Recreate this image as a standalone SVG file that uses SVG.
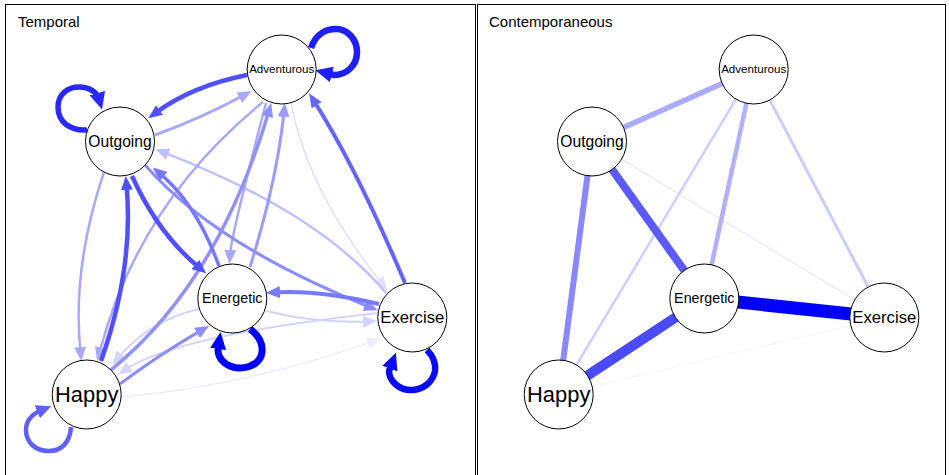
<svg xmlns="http://www.w3.org/2000/svg" width="949" height="475" viewBox="0 0 949 475">
<style>
.frame{fill:none;stroke:#000;stroke-width:1}
.node circle{fill:#fff;stroke:#000;stroke-width:1}
.node text{font-family:"Liberation Sans",Arial,sans-serif;text-anchor:middle;fill:#000}
.title{font-family:"Liberation Sans",Arial,sans-serif;font-size:15px;fill:#000}
.e{fill:none;stroke-linecap:butt}
.u{fill:none;stroke-linecap:butt}
</style>
<defs>
<marker id="m1" viewBox="0 0 14 12" refX="5" refY="6" markerWidth="14" markerHeight="12" orient="auto" markerUnits="userSpaceOnUse"><path d="M0,0L14,6L0,12z" fill="#5050ff"/></marker>
<marker id="m2" viewBox="0 0 14 12" refX="5" refY="6" markerWidth="14" markerHeight="12" orient="auto" markerUnits="userSpaceOnUse"><path d="M0,0L14,6L0,12z" fill="#a8a8ff"/></marker>
<marker id="m3" viewBox="0 0 14 12" refX="5" refY="6" markerWidth="14" markerHeight="12" orient="auto" markerUnits="userSpaceOnUse"><path d="M0,0L14,6L0,12z" fill="#6464ff"/></marker>
<marker id="m4" viewBox="0 0 14 12" refX="5" refY="6" markerWidth="14" markerHeight="12" orient="auto" markerUnits="userSpaceOnUse"><path d="M0,0L14,6L0,12z" fill="#e0e0ff"/></marker>
<marker id="m5" viewBox="0 0 14 12" refX="5" refY="6" markerWidth="14" markerHeight="12" orient="auto" markerUnits="userSpaceOnUse"><path d="M0,0L14,6L0,12z" fill="#9c9cff"/></marker>
<marker id="m6" viewBox="0 0 14 12" refX="5" refY="6" markerWidth="14" markerHeight="12" orient="auto" markerUnits="userSpaceOnUse"><path d="M0,0L14,6L0,12z" fill="#9090ff"/></marker>
<marker id="m7" viewBox="0 0 14 12" refX="5" refY="6" markerWidth="14" markerHeight="12" orient="auto" markerUnits="userSpaceOnUse"><path d="M0,0L14,6L0,12z" fill="#7878ff"/></marker>
<marker id="m8" viewBox="0 0 14 12" refX="5" refY="6" markerWidth="14" markerHeight="12" orient="auto" markerUnits="userSpaceOnUse"><path d="M0,0L14,6L0,12z" fill="#8c8cff"/></marker>
<marker id="m9" viewBox="0 0 14 12" refX="5" refY="6" markerWidth="14" markerHeight="12" orient="auto" markerUnits="userSpaceOnUse"><path d="M0,0L14,6L0,12z" fill="#c0c0ff"/></marker>
<marker id="m10" viewBox="0 0 14 12" refX="5" refY="6" markerWidth="14" markerHeight="12" orient="auto" markerUnits="userSpaceOnUse"><path d="M0,0L14,6L0,12z" fill="#d4d4ff"/></marker>
<marker id="m11" viewBox="0 0 14 12" refX="5" refY="6" markerWidth="14" markerHeight="12" orient="auto" markerUnits="userSpaceOnUse"><path d="M0,0L14,6L0,12z" fill="#ececff"/></marker>
<marker id="L1" viewBox="0 0 17 16" refX="6" refY="8" markerWidth="17" markerHeight="16" orient="auto" markerUnits="userSpaceOnUse"><path d="M0,0L17,8L0,16z" fill="#1e1eff"/></marker>
<marker id="L2" viewBox="0 0 17 16" refX="6" refY="8" markerWidth="17" markerHeight="16" orient="auto" markerUnits="userSpaceOnUse"><path d="M0,0L17,8L0,16z" fill="#2828ff"/></marker>
<marker id="L3" viewBox="0 0 17 16" refX="6" refY="8" markerWidth="17" markerHeight="16" orient="auto" markerUnits="userSpaceOnUse"><path d="M0,0L17,8L0,16z" fill="#0000ff"/></marker>
<marker id="L4" viewBox="0 0 17 16" refX="6" refY="8" markerWidth="17" markerHeight="16" orient="auto" markerUnits="userSpaceOnUse"><path d="M0,0L17,8L0,16z" fill="#0808ff"/></marker>
<marker id="L5" viewBox="0 0 15 14" refX="5" refY="7" markerWidth="15" markerHeight="14" orient="auto" markerUnits="userSpaceOnUse"><path d="M0,0L15,7L0,14z" fill="#6060ff"/></marker>
</defs>
<rect x="0" y="0" width="949" height="475" fill="#fff"/>
<rect class="frame" x="5.5" y="4.5" width="470" height="480"/>
<rect class="frame" x="477.5" y="4.5" width="468" height="480"/>
<text class="title" x="18" y="27">Temporal</text>
<text class="title" x="489" y="27">Contemporaneous</text>

<g id="connectors-temporal">
<path class="e" d="M121,397 Q247.2,385.6 372.5,341.6" stroke="#ececff" stroke-width="1.5" marker-end="url(#m11)"/>
<path class="e" d="M291,103 Q307.7,191 381.6,283" stroke="#e0e0ff" stroke-width="1.5" marker-end="url(#m4)"/>
<path class="e" d="M378,313 Q177.3,335.3 125.6,369.6" stroke="#d4d4ff" stroke-width="2" marker-end="url(#m10)"/>
<path class="e" d="M266,311 Q319,323.75 368,321.5" stroke="#d4d4ff" stroke-width="2" marker-end="url(#m10)"/>
<path class="e" d="M199,309 Q150,320 118,358" stroke="#d4d4ff" stroke-width="2" marker-end="url(#m10)"/>
<path class="e" d="M386,293 Q318,212 163.6,152.4" stroke="#c0c0ff" stroke-width="2.5" marker-end="url(#m9)"/>
<path class="e" d="M263,102 Q138.75,202.8 99.5,352.4" stroke="#a8a8ff" stroke-width="2.5" marker-end="url(#m2)"/>
<path class="e" d="M104,172 Q71.75,268 80.5,352" stroke="#a8a8ff" stroke-width="2.5" marker-end="url(#m2)"/>
<path class="e" d="M266,103 Q230.9,237 230,255" stroke="#a8a8ff" stroke-width="2.5" marker-end="url(#m2)"/>
<path class="e" d="M155,135 Q202,118 243.7,95.3" stroke="#a8a8ff" stroke-width="3" marker-end="url(#m2)"/>
<path class="e" d="M250,267 Q277,180.5 284,112" stroke="#9c9cff" stroke-width="3" marker-end="url(#m5)"/>
<path class="e" d="M111,370 Q218,283 268.7,111.7" stroke="#9090ff" stroke-width="3.5" marker-end="url(#m6)"/>
<path class="e" d="M145,165 Q215,245 369.6,307" stroke="#8c8cff" stroke-width="3" marker-end="url(#m8)"/>
<path class="e" d="M120,384 Q160,354 201.3,330.4" stroke="#8c8cff" stroke-width="3" marker-end="url(#m8)"/>
<path class="e" d="M219,266 Q196.6,204.3 159.8,173.4" stroke="#7878ff" stroke-width="3.5" marker-end="url(#m7)"/>
<path class="e" d="M379,304 Q319,289.8 275,292.4" stroke="#7878ff" stroke-width="4" marker-end="url(#m7)"/>
<path class="e" d="M405,283 Q356.5,168 314,101" stroke="#6464ff" stroke-width="4" marker-end="url(#m3)"/>
<path class="e" d="M247,75 Q192,86 155.5,113" stroke="#5050ff" stroke-width="4.5" marker-end="url(#m1)"/>
<path class="e" d="M101,361 Q134.25,267 126.5,185" stroke="#5050ff" stroke-width="4.5" marker-end="url(#m1)"/>
<path class="e" d="M132,176 Q158.4,234.2 199.2,267.6" stroke="#5050ff" stroke-width="4.5" marker-end="url(#m1)"/>
<path class="e" d="M71,427 C70,442 62,451 49,451 C35,451 26,442 26,430 C26,420 32,414 42,410" stroke="#6060ff" stroke-width="4.5" marker-end="url(#L5)"/>
<path class="e" d="M87,130 C70,131 58,122 58,107 C58,94 68,87 79,87 C89,87 97,92 99,99" stroke="#2828ff" stroke-width="5.5" marker-end="url(#L2)"/>
<path class="e" d="M311,48 C316,33 327,29 336,29 C348,29 357,40 357,52 C357,66 346,75 334,75 L326,73" stroke="#1e1eff" stroke-width="6.5" marker-end="url(#L1)"/>
<path class="e" d="M250,329 C258,335 263,343 262,352 C261,362 251,368 240,368 C228,368 218,360 218,350 L219,343" stroke="#0000ff" stroke-width="7" marker-end="url(#L3)"/>
<path class="e" d="M427,350 C433,356 436,363 435,371 C433,382 423,390 411,390 C399,390 389,381 389,371 L392,363" stroke="#0808ff" stroke-width="6.5" marker-end="url(#L4)"/>
</g>

<g id="connectors-contemporaneous">
<line class="u" x1="558.7" y1="394.5" x2="884.3" y2="317.5" stroke="#f4f4ff" stroke-width="1"/>
<line class="u" x1="592" y1="141.5" x2="884.3" y2="317.5" stroke="#ececff" stroke-width="1.5"/>
<line class="u" x1="753.7" y1="69.5" x2="558.7" y2="394.5" stroke="#d0d0ff" stroke-width="2.5"/>
<line class="u" x1="753.7" y1="69.5" x2="884.3" y2="317.5" stroke="#ccccff" stroke-width="3"/>
<line class="u" x1="753.7" y1="69.5" x2="704.3" y2="298.5" stroke="#b0b0ff" stroke-width="4.5"/>
<line class="u" x1="592" y1="141.5" x2="753.7" y2="69.5" stroke="#aaaaff" stroke-width="5.5"/>
<line class="u" x1="592" y1="141.5" x2="558.7" y2="394.5" stroke="#8888ff" stroke-width="6"/>
<line class="u" x1="592" y1="141.5" x2="704.3" y2="298.5" stroke="#5a5aff" stroke-width="8"/>
<line class="u" x1="704.3" y1="298.5" x2="558.7" y2="394.5" stroke="#4a4aff" stroke-width="10"/>
<line class="u" x1="704.3" y1="298.5" x2="884.3" y2="317.5" stroke="#0000ff" stroke-width="13"/>
</g>

<g id="t-adventurous" class="node"><circle cx="281.7" cy="69.5" r="34.5"/><text x="281.7" y="73.3" font-size="11.6">Adventurous</text></g>
<g id="t-outgoing" class="node"><circle cx="120" cy="141.5" r="34.5"/><text x="120" y="146.7" font-size="15.6">Outgoing</text></g>
<g id="t-energetic" class="node"><circle cx="232.3" cy="298.5" r="34.5"/><text x="232.3" y="303.2" font-size="14.3">Energetic</text></g>
<g id="t-exercise" class="node"><circle cx="412.3" cy="317.5" r="34.5"/><text x="412.3" y="323" font-size="16.7">Exercise</text></g>
<g id="t-happy" class="node"><circle cx="86.7" cy="394.5" r="34.5"/><text x="86.7" y="401.7" font-size="21.9">Happy</text></g>

<g id="c-adventurous" class="node"><circle cx="753.7" cy="69.5" r="34.5"/><text x="753.7" y="73.3" font-size="11.6">Adventurous</text></g>
<g id="c-outgoing" class="node"><circle cx="592" cy="141.5" r="34.5"/><text x="592" y="146.7" font-size="15.6">Outgoing</text></g>
<g id="c-energetic" class="node"><circle cx="704.3" cy="298.5" r="34.5"/><text x="704.3" y="303.2" font-size="14.3">Energetic</text></g>
<g id="c-exercise" class="node"><circle cx="884.3" cy="317.5" r="34.5"/><text x="884.3" y="323" font-size="16.7">Exercise</text></g>
<g id="c-happy" class="node"><circle cx="558.7" cy="394.5" r="34.5"/><text x="558.7" y="401.7" font-size="21.9">Happy</text></g>
</svg>
